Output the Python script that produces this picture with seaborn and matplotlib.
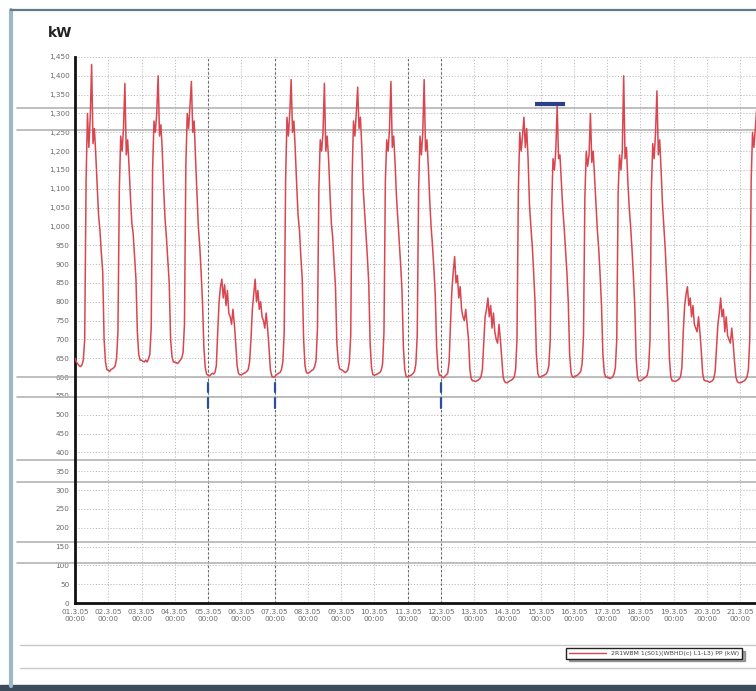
import numpy as np
import pandas as pd
import matplotlib
matplotlib.use("Agg")
import matplotlib.pyplot as plt
from matplotlib.lines import Line2D
from matplotlib.patches import Rectangle
import seaborn as sns

# ── Hourly load per day (kW, 00:00 .. 23:00) ─────────────────────────────────
kw_0301 = [650, 640, 635, 630, 628, 632, 645, 700, 1120, 1300, 1210, 1290, 1430, 1220, 1260, 1190, 1110, 1030, 990, 930, 880, 700, 640, 620]
kw_0302 = [618, 615, 620, 622, 625, 630, 650, 720, 1100, 1240, 1200, 1260, 1380, 1190, 1230, 1160, 1080, 1010, 980, 920, 860, 720, 660, 645]
kw_0303 = [645, 642, 640, 645, 640, 648, 660, 730, 1150, 1280, 1250, 1300, 1400, 1240, 1270, 1200, 1100, 1020, 970, 910, 850, 700, 655, 640]
kw_0304 = [640, 638, 636, 640, 645, 650, 665, 740, 1160, 1300, 1260, 1320, 1385, 1250, 1280, 1180, 1090, 1000, 950, 880, 800, 680, 625, 608]
kw_0305 = [605, 603, 606, 610, 608, 612, 630, 720, 800, 840, 860, 810, 845, 790, 830, 770, 760, 740, 780, 740, 690, 630, 610, 606]
kw_0306 = [606, 608, 610, 612, 615, 620, 640, 700, 780, 820, 860, 800, 830, 780, 800, 760, 750, 730, 770, 730, 680, 620, 603, 600]
kw_0307 = [600, 605, 608, 610, 612, 620, 640, 720, 1120, 1290, 1240, 1300, 1390, 1250, 1280, 1200, 1110, 1030, 990, 920, 860, 700, 630, 612]
kw_0308 = [610, 612, 615, 618, 620, 628, 645, 730, 1100, 1230, 1200, 1250, 1380, 1200, 1240, 1180, 1090, 1010, 970, 900, 840, 690, 640, 622]
kw_0309 = [620, 618, 615, 612, 614, 620, 640, 710, 1130, 1280, 1240, 1300, 1370, 1260, 1290, 1210, 1100, 1040, 980, 920, 850, 690, 625, 606]
kw_0310 = [605, 606, 608, 610, 612, 618, 635, 720, 1120, 1230, 1200, 1260, 1385, 1210, 1240, 1170, 1080, 1020, 960, 900, 830, 680, 620, 602]
kw_0311 = [600, 602, 604, 606, 610, 615, 635, 710, 1100, 1240, 1190, 1250, 1390, 1200, 1230, 1160, 1070, 1000, 950, 890, 820, 680, 620, 605]
kw_0312 = [605, 600, 598, 602, 606, 610, 640, 740, 830, 880, 920, 850, 870, 810, 840, 780, 760, 750, 780, 740, 700, 620, 595, 590]
kw_0313 = [590, 588, 590, 592, 595, 600, 620, 690, 760, 780, 810, 760, 790, 730, 770, 720, 700, 690, 740, 700, 650, 600, 588, 585]
kw_0314 = [585, 588, 590, 592, 595, 600, 620, 700, 1100, 1250, 1200, 1240, 1290, 1210, 1260, 1180, 1060, 1000, 950, 880, 800, 660, 610, 600]
kw_0315 = [600, 602, 604, 606, 608, 615, 630, 700, 1050, 1180, 1150, 1200, 1320, 1180, 1190, 1120, 1050, 1000, 940, 880, 800, 660, 612, 600]
kw_0316 = [600, 602, 604, 606, 610, 615, 635, 710, 1080, 1200, 1160, 1190, 1300, 1170, 1200, 1130, 1060, 990, 940, 870, 790, 660, 612, 600]
kw_0317 = [600, 598, 596, 598, 600, 608, 625, 700, 1090, 1190, 1150, 1200, 1400, 1180, 1210, 1120, 1050, 1000, 940, 870, 790, 650, 600, 590]
kw_0318 = [590, 592, 595, 598, 600, 605, 625, 700, 1100, 1220, 1180, 1250, 1360, 1190, 1230, 1150, 1060, 1000, 940, 860, 780, 650, 600, 590]
kw_0319 = [590, 588, 590, 592, 595, 600, 625, 720, 790, 820, 840, 790, 810, 760, 790, 740, 730, 720, 760, 720, 670, 610, 592, 590]
kw_0320 = [590, 588, 586, 588, 590, 596, 615, 680, 740, 770, 810, 760, 780, 720, 760, 710, 700, 690, 730, 690, 640, 600, 588, 585]
kw_0321 = [585, 586, 588, 590, 594, 600, 620, 700, 1120, 1250, 1210, 1260, 1310, 1180, 1000]

days = [kw_0301, kw_0302, kw_0303, kw_0304, kw_0305, kw_0306, kw_0307,
        kw_0308, kw_0309, kw_0310, kw_0311, kw_0312, kw_0313, kw_0314,
        kw_0315, kw_0316, kw_0317, kw_0318, kw_0319, kw_0320, kw_0321]

START = pd.Timestamp("2005-03-01")
END = pd.Timestamp("2005-03-21 11:30")

# marked days (dark dashed verticals, some with blue ticks below the curve)
dashed_days = ["2005-03-05", "2005-03-07", "2005-03-11", "2005-03-12"]
blue_days = ["2005-03-05", "2005-03-07", "2005-03-12"]
blue_ticks_kw = [(560, 584), (518, 544)]

# blue limit bar
bar_from, bar_to, bar_kw = "2005-03-14 20:00", "2005-03-15 17:30", 1325

# solid grey horizontals crossing the sheet
ref_kw = [1315, 1255, 600, 548, 380, 322, 162, 106]

y_ticks = list(range(0, 1451, 50))
legend_label = "2R1WBM 1(S01)(WBHD(c) L1-L3) PP (kW)"

# ── Build frame ──────────────────────────────────────────────────────────────
rows = []
for i, vals in enumerate(days):
    for h, v in enumerate(vals):
        rows.append((START + pd.Timedelta(days=i, hours=h), v))
df = pd.DataFrame(rows, columns=["time", "kw"])

# ── Plot ─────────────────────────────────────────────────────────────────────
sns.set_style("white")
plt.rcParams["font.family"] = ["DejaVu Sans"]

fig = plt.figure(figsize=(7.56, 6.91), dpi=100)
ax = fig.add_axes([75 / 756, 1 - 603 / 691, 1 - 75 / 756, (603 - 57) / 691])

grid_kw = dict(color="#bdbdbd", linewidth=0.7, linestyle=(0, (1.2, 1.8)))
for y in y_ticks:
    ax.axhline(y, zorder=0, **grid_kw)
day_ticks = pd.date_range(START, periods=21, freq="D")
for t in day_ticks:
    ax.axvline(t, zorder=0, **grid_kw)
for d in dashed_days:
    ax.axvline(pd.Timestamp(d), color="#666666", linewidth=0.8,
               linestyle=(0, (2, 2)), zorder=1)

for y in ref_kw:
    ax.axhline(y, xmin=-0.085, xmax=1, color="#b4b4b4", linewidth=1.2,
               clip_on=False, zorder=1)

sns.lineplot(data=df, x="time", y="kw", ax=ax, color="#d9464f",
             linewidth=1.1, zorder=3, label=legend_label, legend=False)

for d in blue_days:
    for lo, hi in blue_ticks_kw:
        ax.plot([pd.Timestamp(d)] * 2, [lo, hi], color="#2d4f9a",
                linewidth=1.6, zorder=4)
ax.plot([pd.Timestamp(bar_from), pd.Timestamp(bar_to)], [bar_kw, bar_kw],
        color="#2a3f88", linewidth=3, solid_capstyle="butt", zorder=4)

ax.set_xlim(START, END)
ax.set_ylim(0, 1450)
ax.set_yticks(y_ticks)
ax.set_yticklabels([f"{v:,}" for v in y_ticks])
ax.set_xticks(day_ticks)
ax.set_xticklabels([f"{t.day:02d}.{t.month}.{t:%y}\n00:00" for t in day_ticks])
ax.tick_params(axis="both", labelsize=5.2, colors="#6a6a6a", length=0, pad=4)
ax.set_xlabel("")
ax.set_ylabel("")

for s in ["top", "right"]:
    ax.spines[s].set_visible(False)
for s in ["left", "bottom"]:
    ax.spines[s].set_color("#111111")
    ax.spines[s].set_linewidth(2)

fig.text(48 / 756, 1 - 33 / 691, "kW", fontsize=10, fontweight="bold",
         color="#222222", va="center", ha="left")

# ── Sheet frame ──────────────────────────────────────────────────────────────
fig.add_artist(Line2D([11 / 756, 11 / 756], [1 - 10 / 691, 1 - 686 / 691],
                      color="#9fb8c8", linewidth=3))
fig.add_artist(Line2D([11 / 756, 1], [1 - 10 / 691, 1 - 10 / 691],
                      color="#607888", linewidth=1.6))
fig.add_artist(Rectangle((0, 0), 1, 6 / 691, color="#3c4c5c",
                         transform=fig.transFigure))
for yy in (645, 668):
    fig.add_artist(Line2D([20 / 756, 1], [1 - yy / 691] * 2,
                          color="#c8c8c8", linewidth=1))

handles = [Line2D([], [], color="#d9464f", linewidth=1)]
leg = fig.legend(handles, [legend_label], loc="upper left",
                 bbox_to_anchor=(563 / 756, 1 - 645 / 691), fontsize=4.5,
                 frameon=True, fancybox=False, shadow=True, edgecolor="#222222",
                 handlelength=6, borderpad=0.4, labelcolor="#444444")

plt.savefig("out.png", dpi=100)
